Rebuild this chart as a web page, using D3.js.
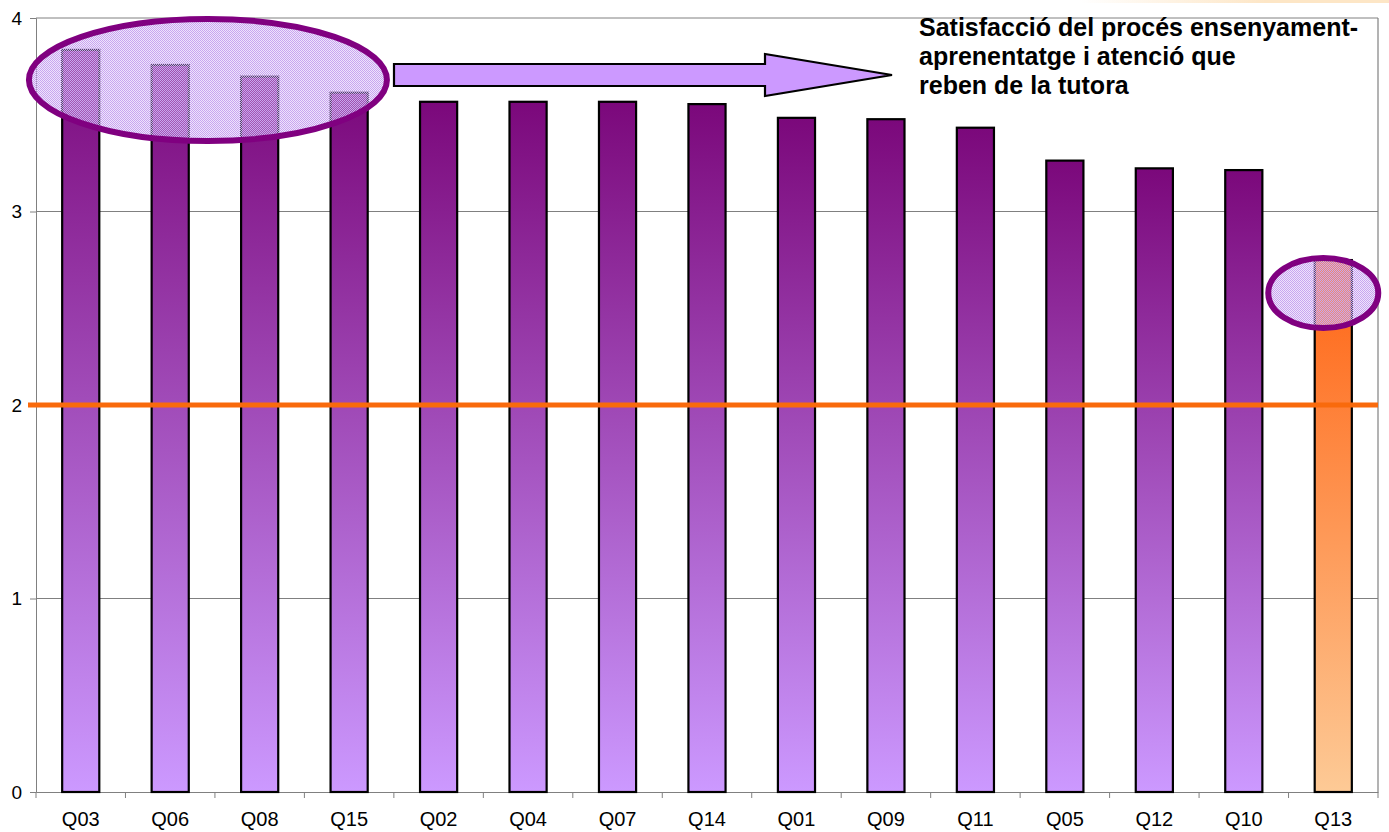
<!DOCTYPE html>
<html><head><meta charset="utf-8">
<script src="https://cdn.jsdelivr.net/npm/d3@7"></script>
<style>html,body{margin:0;padding:0;background:#fff;overflow:hidden}</style>
</head><body>
<svg id="c" width="1389" height="832"></svg>
<script>
const categories = ["Q03","Q06","Q08","Q15","Q02","Q04","Q07","Q14","Q01","Q09","Q11","Q05","Q12","Q10","Q13"];
const values = [3.835,3.757,3.697,3.614,3.567,3.567,3.567,3.555,3.484,3.477,3.433,3.263,3.223,3.214,2.749];
const highlighted = ["Q13"];
const yTicks = [0,1,2,3,4];
const referenceValue = 2;
const titleLines = ["Satisfacció del procés ensenyament-","aprenentatge i atenció que","reben de la tutora"];
const groupTop = ["Q03","Q06","Q08","Q15"];

const svg = d3.select("#c");
const L = 36, R = 1378, T = 18, B = 792;
const x = d3.scaleBand().domain(categories).range([L, R]).paddingInner(0.585).paddingOuter(0.2925);
const y = d3.scaleLinear().domain([0, 4]).range([B, T]);

const defs = svg.append("defs");
const gp = defs.append("linearGradient").attr("id","gp").attr("x1",0).attr("y1",0).attr("x2",0).attr("y2",1);
gp.append("stop").attr("offset","0%").attr("stop-color","#7b087b");
gp.append("stop").attr("offset","100%").attr("stop-color","#cc99ff");
const go = defs.append("linearGradient").attr("id","go").attr("x1",0).attr("y1",0).attr("x2",0).attr("y2",1);
go.append("stop").attr("offset","0%").attr("stop-color","#ff6414");
go.append("stop").attr("offset","100%").attr("stop-color","#fdca96");
const pat = defs.append("pattern").attr("id","chk").attr("width",2).attr("height",2).attr("patternUnits","userSpaceOnUse");
pat.append("rect").attr("x",0).attr("y",0).attr("width",1).attr("height",1).attr("fill","#c8a6f0");
pat.append("rect").attr("x",1).attr("y",1).attr("width",1).attr("height",1).attr("fill","#c8a6f0");
pat.append("rect").attr("x",1).attr("y",0).attr("width",1).attr("height",1).attr("fill","#d6bcf4").attr("fill-opacity",0.4);
pat.append("rect").attr("x",0).attr("y",1).attr("width",1).attr("height",1).attr("fill","#d6bcf4").attr("fill-opacity",0.4);
const tg = defs.append("linearGradient").attr("id","tg").attr("x1",0).attr("x2",1).attr("y1",0).attr("y2",0);
tg.append("stop").attr("offset","0%").attr("stop-color","#fde6c6").attr("stop-opacity",0);
tg.append("stop").attr("offset","60%").attr("stop-color","#fde6c6").attr("stop-opacity",1);

// faint top-right strip
svg.append("rect").attr("x",1080).attr("y",0).attr("width",309).attr("height",3).attr("fill","url(#tg)");

// gridlines
svg.append("g").selectAll("line").data(yTicks.filter(d=>d>0)).join("line")
  .attr("x1",L).attr("x2",R).attr("y1",d=>y(d)).attr("y2",d=>y(d))
  .attr("stroke","#808080").attr("stroke-width",1);
// right border
svg.append("line").attr("x1",R).attr("x2",R).attr("y1",T).attr("y2",B).attr("stroke","#808080").attr("stroke-width",1.2);

const axisFont = "'Liberation Sans', Arial, sans-serif";
// y axis
const ya = svg.append("g").attr("transform",`translate(${L},0)`)
  .call(d3.axisLeft(y).tickValues(yTicks).tickFormat(d3.format("d")).tickSize(6).tickPadding(8));
ya.attr("font-family",null).attr("font-size",null);
ya.select(".domain").attr("stroke","#808080");
ya.selectAll(".tick line").attr("stroke","#808080");
ya.selectAll("text").style("font-family",axisFont).style("font-size","19px").attr("fill","#000");

// x axis
const xa = svg.append("g").attr("transform",`translate(0,${B})`)
  .call(d3.axisBottom(x).tickSize(0).tickPadding(20));
xa.attr("font-family",null).attr("font-size",null);
xa.select(".domain").attr("stroke","#808080");
xa.selectAll("text").style("font-family",axisFont).style("font-size","20px").attr("fill","#000");
const bounds = d3.range(categories.length+1).map(i => L + i*(R-L)/categories.length);
svg.append("g").selectAll("line").data(bounds).join("line")
  .attr("x1",d=>d).attr("x2",d=>d).attr("y1",B).attr("y2",B+6).attr("stroke","#808080");

// bars
svg.append("g").selectAll("rect").data(categories.map((c,i)=>({c,v:values[i]}))).join("rect")
  .attr("x",d=>x(d.c)).attr("width",x.bandwidth())
  .attr("y",d=>y(d.v)).attr("height",d=>y(0)-y(d.v))
  .attr("fill",d=>highlighted.includes(d.c)?"url(#go)":"url(#gp)")
  .attr("stroke","#000").attr("stroke-width",2.2);

// reference line
svg.append("line").attr("x1",28).attr("x2",R).attr("y1",y(referenceValue)).attr("y2",y(referenceValue))
  .attr("stroke","#f96a0c").attr("stroke-width",5);

// ellipse around top group
const gx0 = x(groupTop[0]), gx1 = x(groupTop[groupTop.length-1]) + x.bandwidth();
svg.append("ellipse").attr("cx",(gx0+gx1)/2 - 7).attr("cy",80).attr("rx",179).attr("ry",61)
  .attr("fill","url(#chk)").attr("stroke","#800080").attr("stroke-width",6);
// ellipse around highlighted
const hx = x(highlighted[0]) + x.bandwidth()/2;
svg.append("ellipse").attr("cx",hx-10).attr("cy",y(values[categories.indexOf(highlighted[0])])+33).attr("rx",55).attr("ry",35)
  .attr("fill","url(#chk)").attr("stroke","#800080").attr("stroke-width",6);

// arrow
const arrow = [[394,64],[765,64],[765,54],[892,75],[765,96],[765,86],[394,86]];
svg.append("polygon").attr("points",arrow.map(p=>p.join(",")).join(" "))
  .attr("fill","#cc99ff").attr("stroke","#000").attr("stroke-width",2.2).attr("stroke-linejoin","miter");

// title text
svg.append("g").selectAll("text").data(titleLines).join("text")
  .style("font-family","'Liberation Sans', Arial, sans-serif").style("font-weight","bold")
  .style("font-size","25px").attr("fill","#000")
  .attr("x",919).attr("y",(d,i)=>36+i*29).text(d=>d);
</script>
</body></html>
